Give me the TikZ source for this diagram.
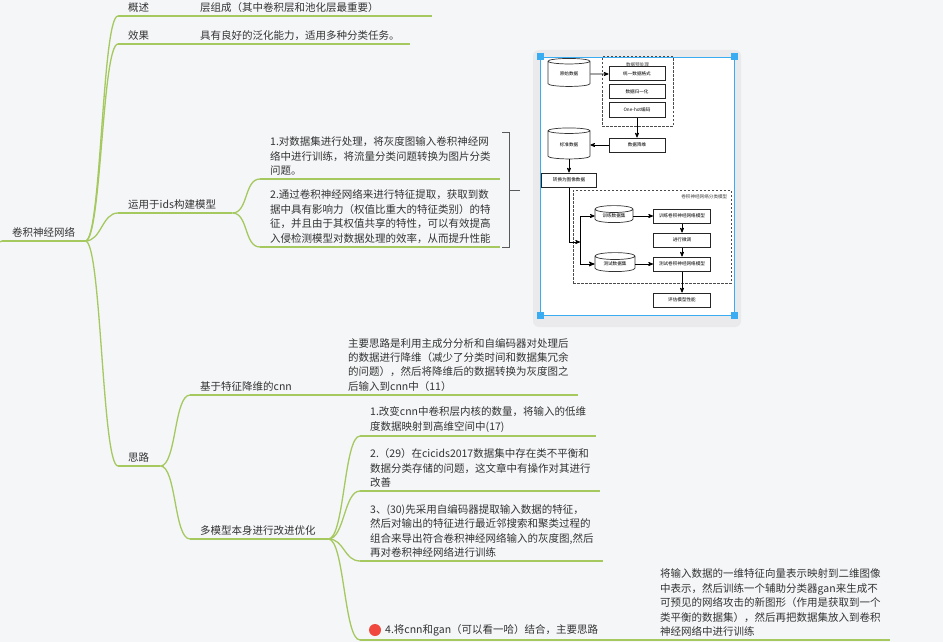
\documentclass[tikz,border=0pt]{standalone}
\usepackage{fontspec}
\setmainfont{Noto Sans CJK SC}
\usetikzlibrary{positioning, arrows, shapes.geometric}

\definecolor{bgcol}{HTML}{F5F6F8}
\definecolor{lgreen}{HTML}{A5C85F}
\definecolor{txt}{HTML}{333333}
\definecolor{selblue}{HTML}{39ACF2}
\definecolor{dotred}{HTML}{F0483E}
\definecolor{framegray}{HTML}{EAEAEC}

\tikzset{
  branch/.style={draw=lgreen, line width=1.3pt},
  mmcurve/.style={to path={.. controls +(16,0) and +(-16,0) .. (\tikztotarget)}},
  topic/.style={anchor=south west, align=left, inner xsep=10pt, inner ysep=3.5pt,
    text=txt, font=\fontsize{10.5}{14.4}\selectfont},
  reddot/.style={circle, fill=dotred, minimum size=12pt, inner sep=0pt},
  flowbox/.style={draw=black!85, line width=1pt, fill=white, minimum width=56pt,
    minimum height=14pt, inner sep=0pt, font=\fontsize{4.6}{5}\selectfont},
  dbase/.style={cylinder, shape border rotate=90, aspect=.3, draw=black!80, fill=white,
    line width=.7pt, inner sep=0pt, font=\fontsize{4.6}{5}\selectfont},
  grpbox/.style={draw=black!70, line width=1pt, dash pattern=on 2.5pt off 1.5pt},
  flabel/.style={fill=white, inner sep=1pt, text=black!75, font=\fontsize{4.6}{5}\selectfont},
}

\begin{document}
\begin{tikzpicture}[x=1pt,y=-1pt,>=stealth',on grid]
  \useasboundingbox[fill=bgcol] (0,0) rectangle (943,642);

  % the map
  \coordinate (up) at (-14,330);
  \node[topic, text width=63pt] (root) at (2,241) {卷积神经网络};
  \node[topic, text width=52pt] (gaishu) at (118,16) {概述};
  \node[topic, text width=222pt] (gaishuD) at (190,16) {层组成（其中卷积层和池化层最重要）};
  \node[topic, text width=52pt] (xiaoguo) at (118,44) {效果};
  \node[topic, text width=200pt] (xiaoguoD) at (190,44) {具有良好的泛化能力，适用多种分类任务。};
  \node[topic, text width=94pt] (yunyong) at (118,213) {运用于ids构建模型};
  \node[topic, text width=220pt] (yy1) at (260,179)
    {1.对数据集进行处理，将灰度图输入卷积神经网\\络中进行训练，将流量分类问题转换为图片分类\\问题。};
  \node[topic, text width=220pt] (yy2) at (260,247)
    {2.通过卷积神经网络来进行特征提取，获取到数\\据中具有影响力（权值比重大的特征类别）的特\\征，并且由于其权值共享的特性，可以有效提高\\入侵检测模型对数据处理的效率，从而提升性能};
  \node[topic, text width=22pt] (silu) at (118,466) {思路};
  \node[topic, text width=128pt] (jiyu) at (190,395) {基于特征降维的cnn};
  \node[topic, text width=220pt] (jiyuD) at (338,395)
    {主要思路是利用主成分分析和自编码器对处理后\\的数据进行降维（减少了分类时间和数据集冗余\\的问题），然后将降维后的数据转换为灰度图之\\后输入到cnn中（11）};
  \node[topic, text width=118pt] (duomx) at (190,539) {多模型本身进行改进优化};
  \node[topic, text width=216pt] (c1) at (360,436)
    {1.改变cnn中卷积层内核的数量，将输入的低维\\度数据映射到高维空间中(17)};
  \node[topic, text width=220pt] (c2) at (360,491)
    {2.（29）在cicids2017数据集中存在类不平衡和\\数据分类存储的问题，这文章中有操作对其进行\\改善};
  \node[topic, text width=223pt] (c3) at (360,561)
    {3、(30)先采用自编码器提取输入数据的特征，\\然后对输出的特征进行最近邻搜索和聚类过程的\\组合来导出符合卷积神经网络输入的灰度图,然后\\再对卷积神经网络进行训练};
  \node[topic, text width=270pt] (c4) at (360,640) {\hspace*{15pt}4.将cnn和gan（可以看一哈）结合，主要思路};
  \node[reddot] (dot) at ([xshift=15pt,yshift=10pt]c4.south west) {};
  \node[topic, text width=220pt] (c4D) at (650,640)
    {将输入数据的一维特征向量表示映射到二维图像\\中表示，然后训练一个辅助分类器gan来生成不\\可预见的网络攻击的新图形（作用是获取到一个\\类平衡的数据集），然后再把数据集放入到卷积\\神经网络中进行训练};

  \foreach \n in {root,gaishu,gaishuD,xiaoguo,xiaoguoD,yunyong,yy1,yy2,silu,jiyu,jiyuD,duomx,c1,c2,c3,c4,c4D}
    \draw[branch] (\n.south west) -- (\n.south east);

  \path[branch]
    (up) edge[mmcurve] (root.south west)
    (root.south east) edge[mmcurve] (gaishu.south west)
                      edge[mmcurve] (xiaoguo.south west)
                      edge[mmcurve] (yunyong.south west)
                      edge[mmcurve] (silu.south west)
    (yunyong.south east) edge[mmcurve] (yy1.south west)
                         edge[mmcurve] (yy2.south west)
    (silu.south east) edge[mmcurve] (jiyu.south west)
                      edge[mmcurve] (duomx.south west)
    (duomx.south east) edge[mmcurve] (c1.south west)
                       edge[mmcurve] (c2.south west)
                       edge[mmcurve] (c3.south west)
                       edge[mmcurve] (c4.south west);

  % summary bracket
  \draw[black!65, line width=1pt] (502,132) -- (509,132) -- (509,247) -- (502,247);
  \draw[black!65, line width=1pt] (509,190) -- (520,190);

  % the picture
  \fill[framegray, rounded corners=6pt] (533,50) rectangle (741,327);
  \fill[white] (540,57) rectangle (734,315);

  \node[grpbox, minimum width=71pt, minimum height=69pt] (prep) at (637.5,91.5) {};
  \node[flabel, below=5pt of prep.north] {数据预处理};
  \node[grpbox, minimum width=158pt, minimum height=93pt] (cnnbox) at (652,236.5) {};
  \node[flabel, anchor=north east] at ([xshift=-3pt,yshift=-4pt]cnnbox.north east) {卷积神经网络分类模型};

  \node[dbase, minimum width=42pt, minimum height=28pt] (raw) at (569,74) {原始数据};
  \node[flowbox] (fmt) at (637,74) {统一数据格式};
  \node[flowbox] (norm) [below=18pt of fmt] {数据归一化};
  \node[flowbox] (onehot) [below=18pt of norm] {One-hot编码};
  \node[flowbox] (dimr) [below=35pt of onehot] {数据降维};
  \node[dbase, minimum width=42pt, minimum height=31pt] (std) [left=68pt of dimr] {标准数据};
  \node[flowbox, minimum width=55pt] (img) [below=35pt of std] {转换为图像数据};
  \node[dbase, minimum width=38pt, minimum height=17pt] (train) at (614,216) {训练数据集};
  \node[flowbox, minimum width=57pt] (trm) at (682,216) {训练卷积神经网络模型};
  \node[flowbox, minimum width=57pt] (tune) [below=24pt of trm] {进行微调};
  \node[flowbox, minimum width=57pt] (tem) [below=24pt of tune] {测试卷积神经网络模型};
  \node[dbase, minimum width=40pt, minimum height=19pt] (test) [left=67pt of tem] {测试数据集};
  \node[flowbox, minimum width=57pt] (eval) [below=36pt of tem] {评估模型性能};
  \coordinate (jn) at (580,242);

  \path[->, line width=.7pt]
    (raw) edge (fmt)
    (onehot) edge (dimr)
    (dimr) edge (std)
    (std) edge (img)
    (train) edge (trm)
    (test) edge (tem)
    (trm) edge (tune)
    (tune) edge (tem)
    (tem) edge (eval);
  \draw[->, line width=.7pt] (img.south) |- (jn);
  \draw[->, line width=.7pt] (jn) |- (train.west);
  \draw[->, line width=1pt] (jn) |- (test.west);

  % selection frame
  \draw[selblue, line width=.8pt] (540,57) rectangle (734,315);
  \foreach \hx/\hy in {540/57, 734/57, 540/315, 734/315}
    \fill[selblue] (\hx-3.5,\hy-3.5) rectangle (\hx+3.5,\hy+3.5);
\end{tikzpicture}
\end{document}
